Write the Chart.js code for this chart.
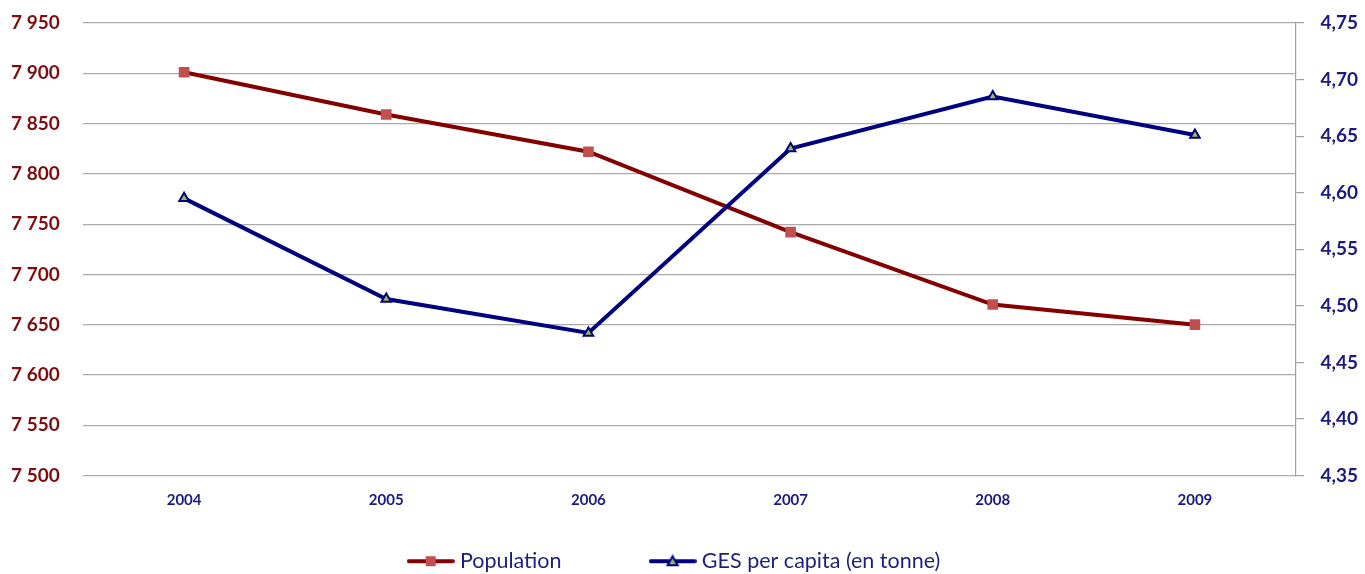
<!DOCTYPE html>
<html>
<head>
<meta charset="utf-8">
<script src="https://cdn.jsdelivr.net/npm/chart.js@4.4.1/dist/chart.umd.min.js"></script>
<style>
  html, body { margin: 0; padding: 0; background: #fff; }
  #wrap { width: 1365px; height: 574px; }
</style>
</head>
<body>
<div id="wrap"><canvas id="gesChart"></canvas></div>
<script>
document.addEventListener('DOMContentLoaded', function() {
    "use strict";

    // Data
    const years = ['2004', '2005', '2006', '2007', '2008', '2009'];
    const population = [7901, 7859, 7822, 7742, 7670, 7650];
    const gesPerCapita = [4.595, 4.506, 4.476, 4.639, 4.685, 4.651];
    const seriesNames = ['Population', 'GES per capita (en tonne)'];

    const RED_LINE = '#840000';
    const RED_MARK = '#C0504D';
    const NAVY = '#000080';
    const GREEN_MARK = '#9BBB59';
    const GRID = '#ABABAB';
    const LEGEND_FONT = { family: 'Lato', size: 21.5 };
    // blank space after each legend entry (the legend sits a bit left of centre)
    const LEGEND_TAIL = [62, 14];

    // small legend icons: line with the marker in the middle
    function legendIcon(kind) {
        const c = document.createElement('canvas');
        c.width = 48; c.height = 14;
        const g = c.getContext('2d');
        g.lineCap = 'round';
        g.lineWidth = 4;
        g.strokeStyle = kind === 'rect' ? RED_LINE : NAVY;
        g.beginPath(); g.moveTo(2, 7); g.lineTo(46, 7); g.stroke();
        if (kind === 'rect') {
            g.fillStyle = RED_MARK;
            g.fillRect(19, 2, 10, 10);
        } else {
            g.fillStyle = GREEN_MARK;
            g.strokeStyle = NAVY;
            g.lineWidth = 2;
            g.beginPath(); g.moveTo(24, 2); g.lineTo(29, 11); g.lineTo(19, 11); g.closePath();
            g.fill(); g.stroke();
        }
        return c;
    }

    // Chart.js uses one padding value for both item spacing and legend height,
    // so widen the entries with trailing spaces instead
    function padLabel(text, gap) {
        const m = document.createElement('canvas').getContext('2d');
        m.font = LEGEND_FONT.size + 'px ' + LEGEND_FONT.family;
        const sp = m.measureText('\u00A0').width || 5;
        return text + '\u00A0'.repeat(Math.round(gap / sp));
    }

    const spaceThousands = v => {
        const s = String(Math.round(v));
        return s.replace(/\B(?=(\d{3})+(?!\d))/g, ' ');
    };

    const ctx = document.getElementById('gesChart');
    new Chart(ctx, {
        type: 'line',
        data: {
            labels: years,
            datasets: [{
                label: seriesNames[0],
                data: population,
                yAxisID: 'y',
                order: 1,
                borderColor: RED_LINE,
                backgroundColor: RED_MARK,
                borderWidth: 4,
                tension: 0,
                pointStyle: 'rect',
                pointRadius: 7.5,
                pointBorderWidth: 0,
                pointBackgroundColor: RED_MARK,
                pointBorderColor: RED_MARK
            }, {
                label: seriesNames[1],
                data: gesPerCapita,
                yAxisID: 'y1',
                order: 0,
                borderColor: NAVY,
                backgroundColor: GREEN_MARK,
                borderWidth: 4,
                tension: 0,
                pointStyle: 'triangle',
                pointRadius: 5.5,
                pointBorderWidth: 2,
                pointBackgroundColor: GREEN_MARK,
                pointBorderColor: NAVY
            }]
        },
        options: {
            responsive: true,
            maintainAspectRatio: false,
            animation: false,
            layout: {
                autoPadding: false,
                padding: { top: 23, left: 11, right: 7, bottom: -8 }
            },
            plugins: {
                tooltip: { enabled: false },
                legend: {
                    position: 'bottom',
                    labels: {
                        usePointStyle: true,
                        pointStyleWidth: 37,
                        padding: 32,
                        color: '#1F1F7A',
                        font: LEGEND_FONT,
                        generateLabels: function(chart) {
                            return chart.data.datasets.map((ds, i) => ({
                                text: padLabel(ds.label, LEGEND_TAIL[i]),
                                datasetIndex: i,
                                pointStyle: legendIcon(i === 0 ? 'rect' : 'triangle'),
                                fontColor: '#1F1F7A',
                                lineWidth: 0,
                                strokeStyle: 'transparent',
                                fillStyle: 'transparent'
                            }));
                        }
                    }
                }
            },
            scales: {
                x: {
                    offset: true,
                    grid: { display: false },
                    border: { display: false },
                    ticks: {
                        color: '#1A1A80',
                        padding: 8,
                        font: { family: 'Lato', size: 15, weight: 'bold' }
                    },
                    afterFit: function(scale) { scale.height = 43; }
                },
                y: {
                    position: 'left',
                    min: 7500,
                    max: 7950,
                    border: { display: false },
                    grid: { color: GRID, lineWidth: 1.2, drawTicks: false },
                    ticks: {
                        stepSize: 50,
                        padding: 0,
                        crossAlign: 'far',
                        color: '#7F0C0C',
                        font: { family: 'Lato', size: 19, weight: 'bold' },
                        callback: v => spaceThousands(v)
                    },
                    afterFit: function(scale) { scale.width = 72; }
                },
                y1: {
                    position: 'right',
                    min: 4.35,
                    max: 4.75,
                    border: { display: true, color: '#A0A0A0', width: 1.2 },
                    grid: { drawOnChartArea: false, drawTicks: true, tickLength: 8, color: '#A0A0A0', lineWidth: 1.2 },
                    ticks: {
                        stepSize: 0.05,
                        padding: 0,
                        crossAlign: 'far',
                        color: '#1A1A80',
                        font: { family: 'Lato', size: 19, weight: 'bold' },
                        callback: v => Number(v).toFixed(2).replace('.', ',')
                    },
                    afterFit: function(scale) { scale.width = 62; }
                }
            }
        }
    });
});
</script>
</body>
</html>
